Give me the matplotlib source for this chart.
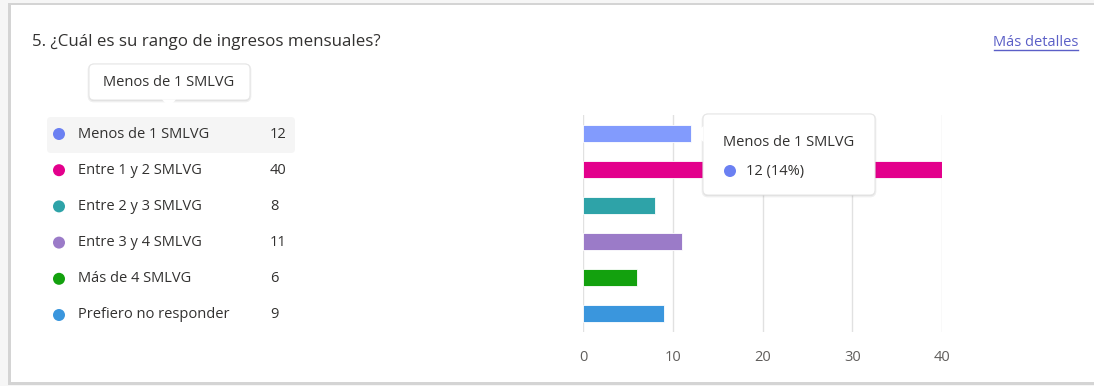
import matplotlib
matplotlib.use("Agg")
import matplotlib.pyplot as plt
from matplotlib.patches import FancyBboxPatch, Circle, Polygon, Rectangle

plt.rcParams['font.family'] = ['Open Sans', 'DejaVu Sans']

title = "5. ¿Cuál es su rango de ingresos mensuales?"
categories = ["Menos de 1 SMLVG", "Entre 1 y 2 SMLVG", "Entre 2 y 3 SMLVG",
              "Entre 3 y 4 SMLVG", "Más de 4 SMLVG", "Prefiero no responder"]
values = [12, 40, 8, 11, 6, 9]
bar_colors = ["#829BFD", "#E3008C", "#2EA3A8", "#9B7BC8", "#13A10E", "#3A96DD"]
dot_colors = ["#6B80F2", "#E3008C", "#2EA3A8", "#9B7BC8", "#13A10E", "#3A96DD"]
xticks = [0, 10, 20, 30, 40]
tooltip_title = "Menos de 1 SMLVG"
tooltip_value = "12 (14%)"

W, H = 1094, 386
fig = plt.figure(figsize=(W / 100, H / 100), dpi=100)
fig.patch.set_facecolor("white")

# background overlay in pixel coords
bg = fig.add_axes([0, 0, 1, 1], zorder=0)
bg.set_xlim(0, W); bg.set_ylim(H, 0); bg.axis("off")

# card with shadow
bg.add_patch(Rectangle((0, 0), W, H, facecolor="#f6f6f6", edgecolor="none"))
bg.add_patch(Rectangle((8, 3), W, 382, facecolor="#d4d4d4", edgecolor="none"))
bg.add_patch(Rectangle((11, 5), W, 377, facecolor="white", edgecolor="none"))

text_color = "#323130"
bg.text(32, 42, title, fontsize=12.2, color=text_color, va="center", ha="left")
bg.text(1078, 42, "Más detalles", fontsize=10.5, color="#5B5FC7", va="center", ha="right")
bg.plot([994, 1078], [50, 50], color="#5B5FC7", lw=1)

# legend highlight row
bg.add_patch(FancyBboxPatch((47, 117), 248, 36, boxstyle="round,pad=0,rounding_size=4",
                            facecolor="#f5f5f5", edgecolor="none"))
row_y0, row_dy = 134, 36.2
for i, (lab, val, c) in enumerate(zip(categories, values, dot_colors)):
    y = row_y0 + i * row_dy
    bg.add_patch(Circle((59, y), 6, facecolor=c, edgecolor="none"))
    bg.text(78, y, lab, fontsize=10.5, color=text_color, va="center", ha="left")
    bg.text(270, y, str(val), fontsize=10.5, color=text_color, va="center", ha="left")

# bar axes
ax_l, ax_r, ax_t, ax_b = 583, 942, 115, 332
ax = fig.add_axes([ax_l / W, 1 - ax_b / H, (ax_r - ax_l) / W, (ax_b - ax_t) / H], zorder=1)
ax.set_facecolor("none")
ypos = list(range(len(categories)))
ax.barh(ypos, values, height=0.47, color=bar_colors, edgecolor="white", linewidth=0.6, zorder=3)
ax.set_ylim(len(categories) - 0.5, -0.5)
ax.set_xlim(0, 40)
ax.set_xticks(xticks)
ax.set_xticklabels([str(t) for t in xticks])
ax.set_yticks([])
for s in ax.spines.values():
    s.set_visible(False)
ax.grid(axis="x", color="#e1e1e1", lw=1, zorder=0)
ax.tick_params(axis="x", length=0, labelsize=10.5, labelcolor="#605E5C", pad=13)

# top overlay for tooltips
fg = fig.add_axes([0, 0, 1, 1], zorder=2)
fg.set_xlim(0, W); fg.set_ylim(H, 0); fg.axis("off"); fg.patch.set_alpha(0)

def tooltip(x, y, w, h, ptr):
    fg.add_patch(FancyBboxPatch((x, y + 1), w, h, boxstyle="round,pad=0,rounding_size=5",
                                facecolor="#00000012", edgecolor="#00000010", lw=2))
    fg.add_patch(FancyBboxPatch((x, y), w, h, boxstyle="round,pad=0,rounding_size=5",
                                facecolor="white", edgecolor="#e6e6e6", lw=0.8))
    fg.add_patch(Polygon(ptr, closed=True, facecolor="white", edgecolor="none"))

tooltip(89, 64, 161, 36, [(162, 99.5), (176, 99.5), (169, 107)])
fg.text(169, 83, tooltip_title, fontsize=10.5, color=text_color, ha="center", va="center")

tooltip(703, 114, 172, 81, [(703.5, 126), (703.5, 142), (694, 134)])
fg.text(723, 143, tooltip_title, fontsize=10.5, color=text_color, ha="left", va="center")
fg.add_patch(Circle((730, 171), 6, facecolor=dot_colors[0], edgecolor="none"))
fg.text(746, 171, tooltip_value, fontsize=10.5, color=text_color, ha="left", va="center")

fig.savefig("out.png", dpi=100)
